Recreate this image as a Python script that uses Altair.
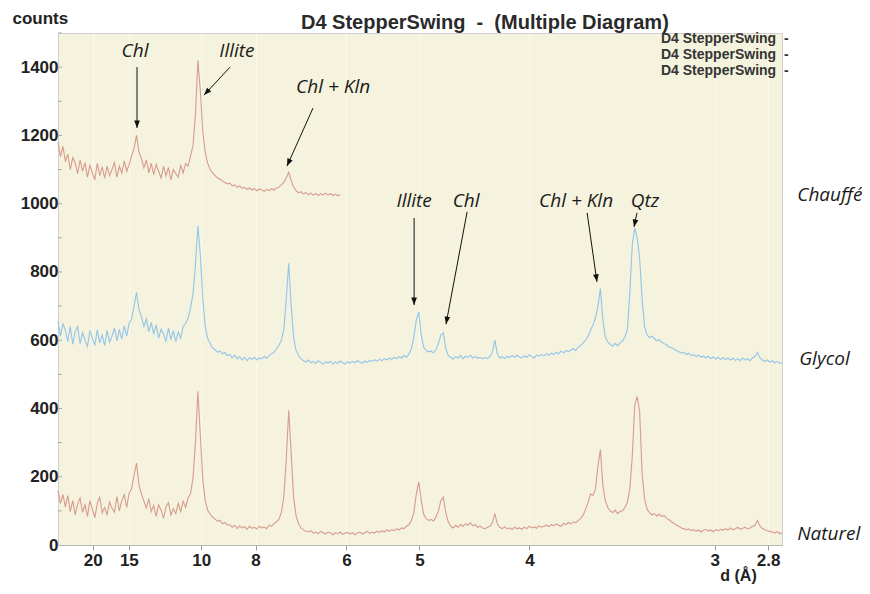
import math
import altair as alt
import pandas as pd

# ---------------- data ----------------
TWO_THETA_START = 3.0      # degrees 2-theta of first sample
TWO_THETA_STEP = 0.1       # sampling step (degrees)
WAVELENGTH = 1.5406        # Cu K-alpha, Angstrom

naturel = [
    160, 122, 148, 112, 145, 98, 130, 88, 120, 138,
    96, 118, 84, 130, 105, 80, 122, 140, 94, 110,
    88, 126, 108, 96, 142, 100, 130, 148, 110, 152,
    165, 205, 240, 175, 150, 128, 108, 136, 98, 116,
    84, 118, 102, 78, 112, 124, 88, 106, 92, 122,
    98, 128, 110, 138, 150, 195, 300, 450, 320, 190,
    130, 102, 90, 82, 76, 70, 72, 62, 66, 58,
    60, 52, 58, 48, 56, 50, 54, 46, 55, 49,
    52, 47, 55, 50, 53, 48, 58, 55, 62, 68,
    75, 95, 140, 250, 395, 270, 140, 85, 62, 50,
    45, 40, 38, 42, 35, 38, 33, 40, 36, 32,
    38, 35, 30, 36, 33, 38, 31, 35, 37, 32,
    36, 30, 35, 38, 32, 36, 40, 34, 38, 35,
    40, 37, 42, 38, 44, 40, 45, 42, 48, 44,
    50, 48, 55, 60, 72, 95, 150, 185, 130, 90,
    78, 72, 75, 70, 82, 100, 130, 140, 95, 68,
    55, 50, 58, 52, 60, 55, 62, 58, 65, 56,
    60, 52, 55, 50, 48, 52, 55, 65, 92, 62,
    52, 48, 53, 47, 50, 45, 52, 48, 50, 46,
    52, 48, 55, 50, 53, 49, 56, 52, 55, 58,
    54, 60, 56, 62, 58, 55, 63, 60, 66, 62,
    68, 65, 72, 78, 88, 105, 125, 150, 145, 165,
    230, 280, 175, 130, 110, 100, 95, 102, 92, 98,
    100, 110, 125, 165, 260, 410, 435, 390, 210, 135,
    105, 95, 88, 92, 85, 90, 84, 86, 78, 74,
    68, 64, 58, 55, 50, 48, 44, 47, 42, 45,
    40, 44, 38, 43, 46, 41, 44, 39, 45, 42,
    46, 43, 48, 44, 50, 45, 47, 52, 46, 49,
    52, 47, 50, 55, 58, 72, 56, 48, 45, 42,
    40, 38, 35, 40, 33, 36,
]

glycol = [
    655, 612, 648, 630, 596, 640, 588, 625, 640, 590,
    622, 600, 582, 628, 606, 585, 630, 592, 615, 584,
    628, 594, 612, 636, 598, 632, 604, 642, 612, 650,
    662, 700, 740, 690, 668, 640, 662, 625, 652, 618,
    645, 606, 632, 618, 596, 636, 602, 628, 596, 624,
    606, 640, 648, 665, 695, 735, 820, 935, 850, 720,
    640, 605, 590, 578, 572, 565, 568, 560, 564, 555,
    558, 548, 556, 545, 552, 542, 550, 540, 548, 544,
    550, 542, 548, 545, 552, 547, 555, 560, 565, 575,
    585, 600, 630, 720, 825, 700, 610, 570, 555, 545,
    540, 536, 542, 534, 538, 532, 540, 535, 530, 537,
    533, 538, 530, 536, 532, 539, 534, 530, 537, 533,
    538, 534, 540, 536, 532, 539, 535, 541, 537, 543,
    538, 544, 540, 546, 542, 548, 544, 550, 546, 552,
    548, 555, 550, 560, 575, 610, 660, 683, 615, 580,
    570, 566, 568, 563, 572, 590, 615, 621, 575, 555,
    550, 545, 552, 548, 555, 546, 553, 549, 556, 548,
    552, 547, 550, 545, 549, 546, 552, 565, 600, 560,
    548, 552, 546, 553, 549, 555, 550, 556, 551, 548,
    554, 550, 557, 552, 548, 556, 553, 558, 554, 560,
    556, 562, 558, 565, 560, 568, 563, 570, 566, 572,
    575, 570, 580, 585, 592, 600, 612, 630, 645, 665,
    700, 752, 660, 610, 595, 588, 582, 590, 584, 592,
    598, 610, 630, 740, 880, 928, 900, 840, 720, 640,
    615, 608, 612, 605, 598, 602, 594, 590, 586, 580,
    578, 574, 570, 566, 562, 565, 558, 562, 555, 558,
    552, 556, 550, 554, 548, 553, 546, 551, 545, 550,
    544, 549, 543, 548, 542, 547, 541, 546, 540, 548,
    542, 546, 540, 548, 552, 565, 548, 542, 538, 542,
    536, 540, 534, 538, 532, 535,
]

chauffe = [
    1180, 1138, 1168, 1125, 1145, 1100, 1135, 1120, 1088, 1128,
    1095, 1120, 1078, 1112, 1090, 1070, 1118, 1082, 1108, 1075,
    1110, 1082, 1100, 1120, 1078, 1110, 1090, 1125, 1095, 1115,
    1140, 1162, 1200, 1150, 1132, 1105, 1128, 1090, 1118, 1085,
    1115, 1095, 1075, 1110, 1082, 1106, 1070, 1100, 1088, 1078,
    1112, 1090, 1118, 1110, 1140, 1170, 1260, 1420, 1330, 1210,
    1150, 1118, 1100, 1090, 1082, 1075, 1072, 1066, 1062, 1058,
    1060, 1052, 1055, 1048, 1052, 1045, 1048, 1042, 1046, 1040,
    1044, 1038, 1043, 1040, 1036, 1042, 1038, 1044, 1040, 1046,
    1048, 1055, 1062, 1075, 1092, 1068, 1048, 1038, 1032, 1035,
    1028, 1033, 1026, 1031, 1025, 1030, 1024, 1029, 1026, 1031,
    1025, 1030, 1024, 1028, 1023, 1027,
]

series_names = ["Chauffé", "Glycol", "Naturel"]
series_colors = ["#d6978a", "#8cc2ea", "#d6978a"]
series_label_x = [33.12, 33.2, 33.12]       # 2-theta
series_label_y = [1009, 526, 14]            # counts

d_ticks = [20, 15, 10, 8, 6, 5, 4, 3, 2.8]
y_ticks = [0, 200, 400, 600, 800, 1000, 1200, 1400]
minor_ticks = [100, 200, 300, 400, 500, 600, 700, 800, 900, 1000,
               1100, 1200, 1300, 1400, 1500]

ann_text = ["Chl", "Illite", "Chl + Kln", "Illite", "Chl", "Chl + Kln", "Qtz"]
ann_x = [6.14, 10.29, 14.21, 17.51, 19.63, 24.11, 26.92]
ann_y = [1430, 1430, 1324, 990, 990, 990, 990]

arrow_x1 = [6.22, 10.01, 13.39, 17.51, 19.67, 24.56, 26.59]
arrow_y1 = [1400, 1400, 1280, 958, 976, 973, 973]
arrow_x2 = [6.22, 8.95, 12.33, 17.51, 18.81, 24.96, 26.47]
arrow_y2 = [1222, 1318, 1110, 703, 647, 771, 932]

# ---------------- layout ----------------
W, H = 724, 512
X_DOMAIN = [3.0, 32.5]
Y_DOMAIN = [0, 1500]
BG = "#f5f3dd"
BOLD_FONT = "Liberation Sans"
ITALIC_FONT = "Open Sans"

rows = []
for name, vals in zip(series_names, [chauffe, glycol, naturel]):
    for i, v in enumerate(vals):
        rows.append({"series": name,
                     "two_theta": round(TWO_THETA_START + i * TWO_THETA_STEP, 3),
                     "counts": v})
df = pd.DataFrame(rows)

x_tick_vals = [2 * math.degrees(math.asin(WAVELENGTH / (2 * d))) for d in d_ticks]

xs = alt.Scale(domain=X_DOMAIN, nice=False, zero=False)
ys = alt.Scale(domain=Y_DOMAIN, nice=False, zero=False)

x_axis = alt.Axis(
    values=x_tick_vals,
    labelExpr="format(%s / (2 * sin(datum.value * PI / 360)), '.1~f')" % WAVELENGTH,
    title="d (Å)", titleX=680, titleY=35, titleAlign="center",
    titleBaseline="alphabetic", titleFont=BOLD_FONT, titleFontSize=16,
    titleFontWeight="bold", titleColor="#222222",
    labelFont=BOLD_FONT, labelFontSize=17, labelFontWeight="bold",
    labelColor="#222222", labelPadding=2, labelOverlap=False, labelFlush=False,
    tickSize=5, tickColor="#9a9a9a", domainColor="#b8b8b8",
    grid=True, gridColor="#ffffff", gridOpacity=0.6,
)
y_axis = alt.Axis(
    values=y_ticks, format="d", title="counts", titleAngle=0, titleAlign="left",
    titleBaseline="alphabetic", titleX=-46, titleY=-10,
    titleFont=BOLD_FONT, titleFontSize=17, titleFontWeight="bold",
    titleColor="#222222",
    labelFont=BOLD_FONT, labelFontSize=17, labelFontWeight="bold",
    labelColor="#222222", labelPadding=0, ticks=False, domain=False, grid=False,
)


def X(field):
    return alt.X(field, scale=xs, axis=x_axis, title="d (Å)")


def Y(field):
    return alt.Y(field, scale=ys, axis=y_axis, title="counts")


lines = alt.Chart(df).mark_line(strokeWidth=1.1, opacity=0.95).encode(
    x=X("two_theta:Q"),
    y=Y("counts:Q"),
    color=alt.Color("series:N", scale=alt.Scale(domain=series_names, range=series_colors),
                    legend=None),
)

minor = alt.Chart(pd.DataFrame({"counts": minor_ticks})).mark_rule(
    color="#a8a8a8", strokeWidth=1).encode(
    y=Y("counts:Q"),
    x=alt.value(0), x2=alt.value(4),
)

# arrows
px_x = W / (X_DOMAIN[1] - X_DOMAIN[0])
px_y = H / (Y_DOMAIN[1] - Y_DOMAIN[0])
angles = []
for a, b, c, d in zip(arrow_x1, arrow_y1, arrow_x2, arrow_y2):
    dx = (c - a) * px_x
    dy = -(d - b) * px_y
    angles.append(math.degrees(math.atan2(dx, -dy)) % 360)
arr_df = pd.DataFrame({"x1": arrow_x1, "y1": arrow_y1, "x2": arrow_x2,
                       "y2": arrow_y2, "angle": angles})

arrow_lines = alt.Chart(arr_df).mark_rule(color="#111111", strokeWidth=1).encode(
    x=X("x1:Q"), y=Y("y1:Q"),
    x2="x2:Q", y2="y2:Q",
)
arrow_heads = alt.Chart(arr_df).mark_point(
    shape="M0,0L0.38,1L-0.38,1Z", filled=True, color="#111111", opacity=1,
    size=225, strokeWidth=0).encode(
    x=X("x2:Q"), y=Y("y2:Q"),
    angle=alt.Angle("angle:Q", scale=None),
)

ann = alt.Chart(pd.DataFrame({"t": ann_text, "x": ann_x, "y": ann_y})).mark_text(
    font=ITALIC_FONT, fontStyle="italic", fontSize=19, color="#1a1a1a",
    align="center", baseline="alphabetic").encode(
    x=X("x:Q"), y=Y("y:Q"),
    text="t:N",
)

series_lbl = alt.Chart(pd.DataFrame({"t": series_names, "x": series_label_x,
                                     "y": series_label_y})).mark_text(
    font=ITALIC_FONT, fontStyle="italic", fontSize=19, color="#1a1a1a",
    align="left", baseline="alphabetic").encode(
    x=X("x:Q"), y=Y("y:Q"),
    text="t:N",
)

title_txt = alt.Chart(pd.DataFrame({"t": ["D4 StepperSwing\u00a0\u00a0-\u00a0\u00a0(Multiple Diagram)"]})).mark_text(
    font=BOLD_FONT, fontWeight="bold", fontSize=20, color="#2a2a2a",
    align="left", baseline="alphabetic").encode(
    x=alt.value(243), y=alt.value(-4), text="t:N")

legend_txt = alt.Chart(pd.DataFrame({"t": ["D4 StepperSwing\u00a0\u00a0-\nD4 StepperSwing\u00a0\u00a0-\nD4 StepperSwing\u00a0\u00a0-"]})).mark_text(
    font=BOLD_FONT, fontWeight="bold", fontSize=14, color="#333333",
    align="left", baseline="alphabetic", lineBreak="\n", lineHeight=16).encode(
    x=alt.value(603), y=alt.value(10), text="t:N")

chart = alt.layer(
    lines, minor, arrow_lines, arrow_heads, ann, series_lbl, title_txt, legend_txt
).properties(
    width=W, height=H,
    autosize=alt.AutoSizeParams(type="none"),
    padding={"left": 50, "top": 25, "right": 80, "bottom": 39},
    background="white",
).configure_view(
    fill=BG, stroke="#cfcfcf", strokeWidth=1,
)

chart.save("out.html", embed_options={"renderer": "svg", "actions": False})
